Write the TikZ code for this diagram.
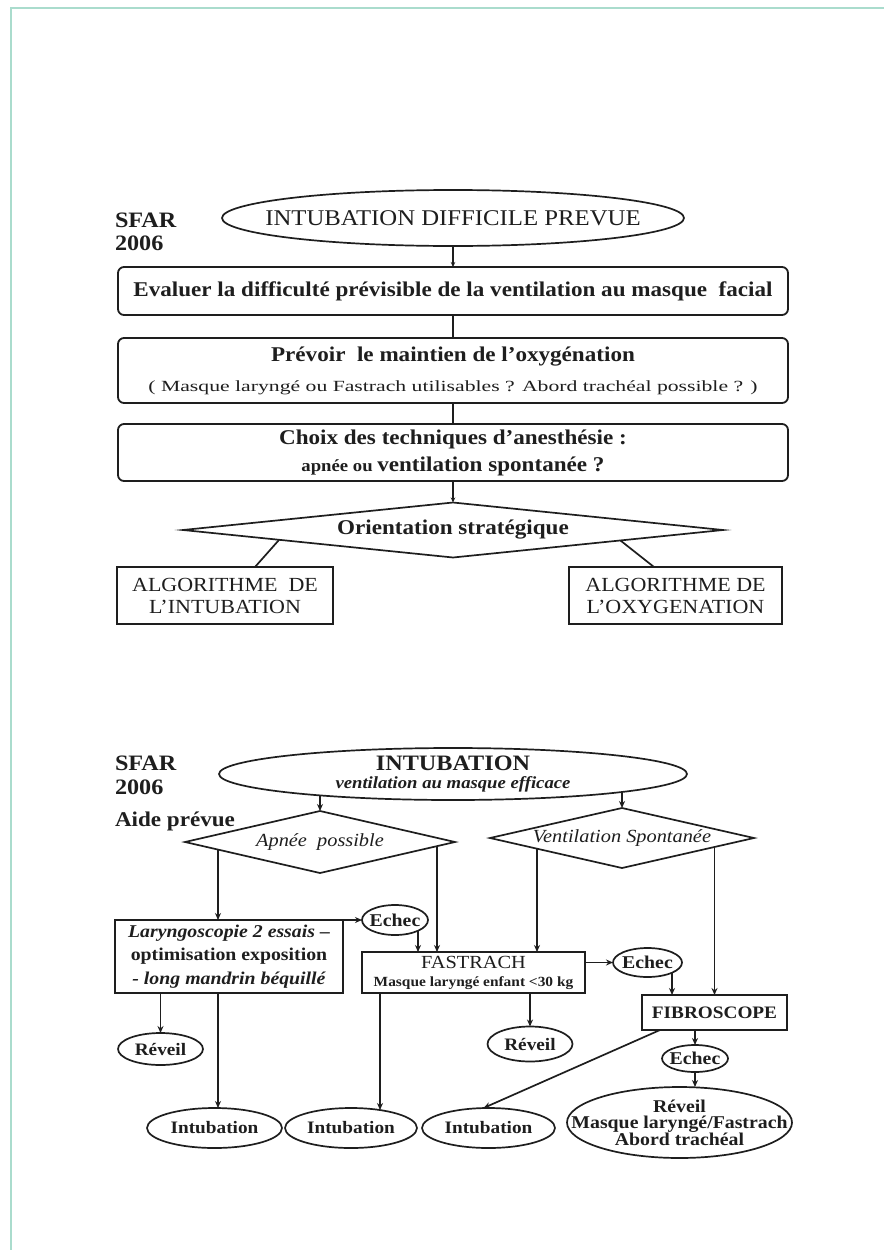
\documentclass[tikz,border=0pt]{standalone}
\usepackage{fontspec}
\setmainfont{Liberation Serif}[FakeStretch=1.1]
\newfontfamily\widefont{Liberation Serif}[FakeStretch=1.4]
\usetikzlibrary{shapes.geometric,calc,arrows.meta,backgrounds}
\definecolor{framecol}{RGB}{170,220,205}
\definecolor{ink}{RGB}{30,30,30}
\newcommand\fs[2]{\fontsize{#1}{#2}\selectfont}
\newcommand\zw[1]{\makebox[0pt]{#1}}
\begin{document}
\begin{tikzpicture}[x=1pt,y=-1pt,
  every node/.style={text=ink, inner sep=0pt, outer sep=0pt},
  ln/.style={draw=ink, line width=1.7pt},
  arr/.style={ln, -{Stealth[length=7pt,width=6pt]}},
  sarr/.style={ln, -{Stealth[length=5pt,width=4.5pt]}},
  rbox/.style={rectangle, draw=ink, line width=1.8pt, rounded corners=6pt, fill=white, minimum width=670pt, align=center},
  sbox/.style={rectangle, draw=ink, line width=1.7pt, fill=white, align=center},
  ell/.style={ellipse, draw=ink, line width=1.7pt, fill=white, align=center},
  dia/.style={diamond, draw=ink, line width=1.7pt, fill=white, align=center},
  lbl/.style={anchor=base west, font=\bfseries\fs{22}{24}}
]
\useasboundingbox (0,0) rectangle (884,1250);
\draw[draw=framecol, line width=2pt] (11,1250) -- (11,8) -- (884,8);

% ---------- top diagram ----------
\node[lbl] (sfarT1) at (115,227) {SFAR};
\node[lbl] (sfarT2) at (115,250) {2006};
\node[ell, minimum width=462pt, minimum height=56pt, font=\fs{22.5}{24}] (e1) at (453,218) {\zw{INTUBATION DIFFICILE PREVUE}};
\node[rbox, minimum height=48pt, font=\bfseries\fs{21}{24}] (b1) at (453,291) {Evaluer la difficulté prévisible de la ventilation au masque\ \ facial};
\node[rbox, minimum height=65pt, font=\fs{21}{30}] (b2) at (453,370.5) {{\bfseries Prévoir\ \ le maintien de l’oxygénation}\\{\widefont\fs{15.5}{30}( Masque laryngé ou Fastrach utilisables ? Abord trachéal possible ? )}};
\node[rbox, minimum height=57pt, font=\bfseries\fs{21}{27}] (b3) at (453,452.5) {Choix des techniques d’anesthésie :\\{\fs{17}{27}apnée ou }ventilation spontanée ?};
\node[dia, minimum width=540pt, minimum height=55pt, font=\bfseries\fs{21}{24}] (dd) at (453,530) {\zw{Orientation stratégique}};
\node[sbox, minimum width=216pt, minimum height=57pt, font=\fs{20}{22}] (aL) at (225,595.5) {ALGORITHME\ \ DE\\L’INTUBATION};
\node[sbox, minimum width=213pt, minimum height=57pt, font=\fs{20}{22}] (aR) at (675.5,595.5) {ALGORITHME DE\\L’OXYGENATION};

\draw[sarr] (e1.south) -- (e1.south |- b1.north);
\draw[ln] (e1.south |- b1.south) -- (e1.south |- b2.north);
\draw[ln] (e1.south |- b2.south) -- (e1.south |- b3.north);
\draw[sarr] (e1.south |- b3.south) -- (dd.north);
\draw[ln] ($(dd.west)!0.356!(dd.south)$) -- ($(aL.north)+(30,0)$);
\draw[ln] ($(dd.east)!0.38!(dd.south)$) -- ($(aR.north)+(-21.5,0)$);

% ---------- bottom diagram ----------
\node[lbl] (sfarB1) at (115,770) {SFAR};
\node[lbl] (sfarB2) at (115,794) {2006};
\node[lbl, font=\bfseries\fs{21}{24}] (aide) at (115,826) {Aide prévue};
\node[ell, minimum width=468pt, minimum height=52pt, font=\bfseries\fs{22}{18}] (e2) at (453,774) {\zw{INTUBATION}\\\zw{\itshape\fs{17}{18}ventilation au masque efficace}};
\node[dia, minimum width=270pt, minimum height=62pt, font=\itshape\fs{18.5}{20}] (d1) at (320,842) {\zw{Apnée\ \ possible}};
\node[dia, minimum width=264pt, minimum height=60pt, font=\itshape\fs{18.5}{20}] (d2) at (622,838) {\zw{Ventilation Spontanée}};
\node[sbox, minimum width=228pt, minimum height=73pt, font=\bfseries\fs{18}{23.5}] (boxL) at (229,956.5) {{\itshape Laryngoscopie 2 essais –}\\optimisation exposition\\{\itshape - long mandrin béquillé}};
\node[ell, minimum width=66pt, minimum height=30pt, font=\bfseries\fs{18}{20}] (ech1) at (395,920) {\zw{Echec}};
\node[sbox, minimum width=223pt, minimum height=41pt, font=\fs{18.5}{18}] (fast) at (473.5,972.5) {FASTRACH\\{\bfseries\fs{14}{18}Masque laryngé enfant <30 kg}};
\node[ell, minimum width=69pt, minimum height=29pt, font=\bfseries\fs{18}{20}] (ech2) at (647.5,962.5) {\zw{Echec}};
\node[sbox, minimum width=145pt, minimum height=35pt, font=\bfseries\fs{17.5}{20}] (fib) at (714.5,1012.5) {FIBROSCOPE};
\node[ell, minimum width=85pt, minimum height=32pt, font=\bfseries\fs{17.5}{20}] (rev1) at (160.5,1049) {\zw{Réveil}};
\node[ell, minimum width=85pt, minimum height=35pt, font=\bfseries\fs{17.5}{20}] (rev2) at (530,1044) {\zw{Réveil}};
\node[ell, minimum width=66pt, minimum height=27pt, font=\bfseries\fs{18}{20}] (ech3) at (695,1058.5) {\zw{Echec}};
\node[ell, minimum width=135pt, minimum height=40pt, font=\bfseries\fs{17.5}{20}] (int1) at (214.5,1128) {\zw{Intubation}};
\node[ell, minimum width=132pt, minimum height=40pt, font=\bfseries\fs{17.5}{20}] (int2) at (351,1128) {\zw{Intubation}};
\node[ell, minimum width=133pt, minimum height=40pt, font=\bfseries\fs{17.5}{20}] (int3) at (488.5,1128) {\zw{Intubation}};
\node[ell, minimum width=225pt, minimum height=71pt, font=\bfseries\fs{18}{16.5}] (big) at (679.5,1122.5) {\zw{Réveil}\\\zw{Masque laryngé/Fastrach}\\\zw{Abord trachéal}};

\coordinate (xL) at ($(boxL.north)+(-11,0)$);
\coordinate (xF1) at ($(fast.north west)+(75,0)$);
\coordinate (xE1) at ($(fast.north west)+(56,0)$);
\coordinate (xF2) at ($(fast.north west)+(175,0)$);
\coordinate (xE2) at ($(fib.north west)+(30,0)$);
\coordinate (xI2) at ($(fast.south west)+(18,0)$);

\begin{pgfonlayer}{background}
\draw[arr] (d1.north |- e2.center) -- (d1.north);
\draw[arr] (d2.north |- e2.center) -- (d2.north);
\draw[arr] (xL |- d1.center) -- (xL);
\draw[arr] (xF1 |- d1.center) -- (xF1);
\draw[arr] (xE1 |- ech1.center) -- (xE1);
\draw[arr] (xF2 |- d2.center) -- (xF2);
\draw[arr] (fib.north |- d2.center) -- (fib.north);
\draw[arr] (xE2 |- ech2.center) -- (xE2);
\end{pgfonlayer}

\draw[arr] (boxL.north east) -- (ech1.west);
\draw[arr] (ech2.west -| fast.east) -- (ech2.west);
\draw[arr] (rev1.north |- boxL.south) -- (rev1.north);
\draw[arr] (xL |- boxL.south) -- (xL |- int1.north);
\draw[arr] (xI2) -- ($(xI2 |- int2.north)+(0,2)$);
\draw[arr] (rev2.north |- fast.south) -- (rev2.north);
\draw[arr] ($(fib.south west)+(18,0)$) -- ($(int3.north)+(-5,0)$);
\draw[arr] (ech3.north |- fib.south) -- (ech3.north);
\draw[arr] (ech3.south) -- (ech3.south |- big.north);
\end{tikzpicture}
\end{document}
